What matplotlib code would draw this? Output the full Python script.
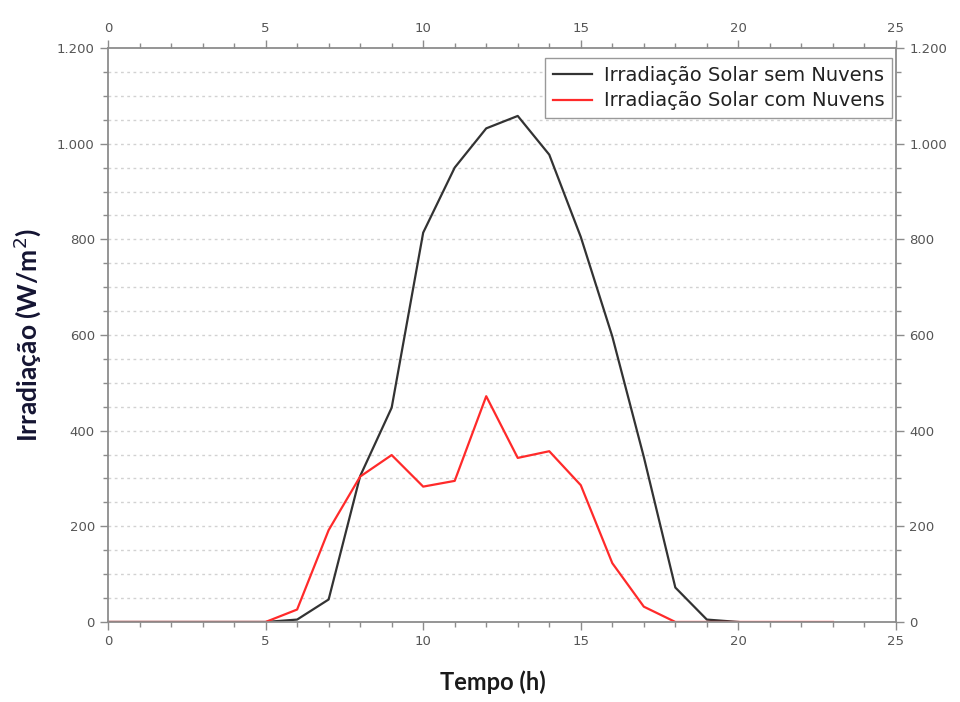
import numpy as np
from matplotlib import pyplot as plt
from matplotlib.ticker import MultipleLocator, FuncFormatter

# dados horarios
hours_clear = list(range(0, 21))
irr_clear = [0, 0, 0, 0, 0, 0, 5, 47, 305, 448, 814, 950, 1032, 1058, 977,
             805, 597, 345, 72, 5, 0]

hours_cloud = list(range(0, 24))
irr_cloud = [0, 0, 0, 0, 0, 0, 26, 192, 304, 349, 283, 295, 472, 343, 357,
             286, 123, 32, 0, 0, 0, 0, 0, 0]

label_clear = 'Irradiação Solar sem Nuvens'
label_cloud = 'Irradiação Solar com Nuvens'

tick_grey = '#555555'
frame_grey = '#8c8c8c'

fig = plt.figure(figsize=(9.6, 7.02), dpi=100)
ax = fig.add_axes([0.1125, 0.114, 0.8208, 0.8176])

ax.plot(hours_clear, irr_clear, c='#333333', lw=1.6, label=label_clear)
ax.plot(hours_cloud, irr_cloud, c='#ff2a2a', lw=1.6, label=label_cloud)

ax.set_xlim(0, 25)
ax.set_ylim(0, 1200)
ax.xaxis.set_major_locator(MultipleLocator(5))
ax.xaxis.set_minor_locator(MultipleLocator(1))
ax.yaxis.set_major_locator(MultipleLocator(200))
ax.yaxis.set_minor_locator(MultipleLocator(50))
ax.yaxis.set_major_formatter(FuncFormatter(lambda v, p: f'{int(v):,}'.replace(',', '.')))

# grade horizontal pontilhada a cada 50
for v in np.arange(50, 1200, 50):
    ax.axhline(v, color='#d2d2d2', lw=1.0, ls=(0, (2, 2.5)), zorder=0)

ax.tick_params(which='both', direction='out', colors=frame_grey,
               labelcolor=tick_grey, labelsize=9.5,
               top=True, right=True, labeltop=True, labelright=True)
ax.tick_params(which='major', length=6, width=1)
ax.tick_params(which='minor', length=3.5, width=1)
for s in ax.spines.values():
    s.set_color(frame_grey)
    s.set_linewidth(1.3)

ax.set_xlabel('Tempo (h)', fontsize=17, fontweight='bold', family='Lato',
              color='#1a1a1a', labelpad=20)
ax.xaxis.set_label_coords(0.488, -0.085)
ax.set_ylabel('Irradiação (W/m$^2$)', fontsize=19, fontweight='bold', family='Lato',
              color='#141432', labelpad=10)

leg = ax.legend(loc='upper right', fontsize=14, fancybox=False, framealpha=1,
                edgecolor='#999999', handlelength=2.0, borderpad=0.4,
                labelspacing=0.35, handletextpad=0.6, borderaxespad=0,
                bbox_to_anchor=(0.995, 0.983))
for t in leg.get_texts():
    t.set_color('#222222')

fig.savefig('out.png', dpi=100)
